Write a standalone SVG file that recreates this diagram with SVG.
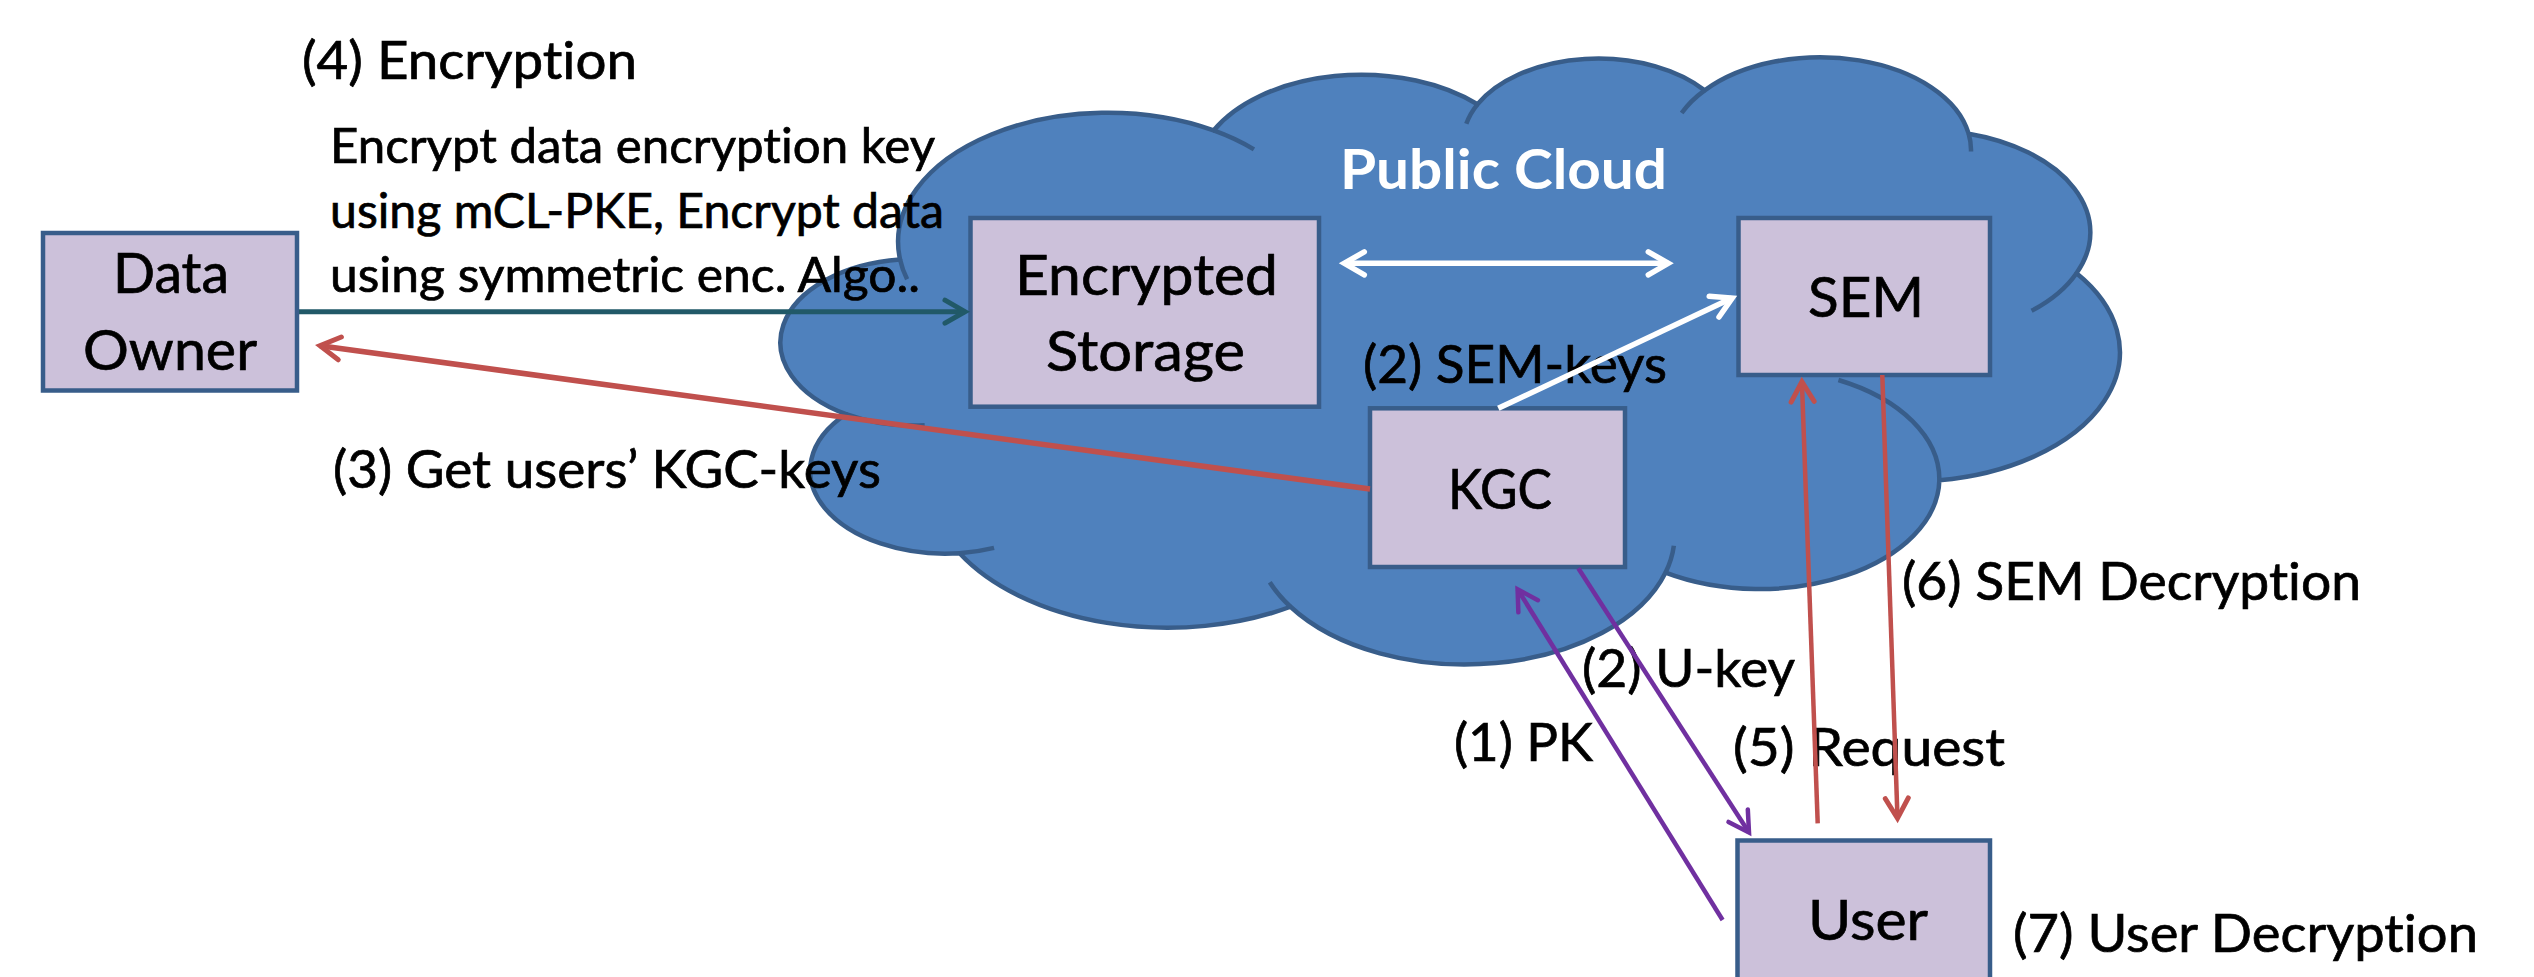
<svg xmlns="http://www.w3.org/2000/svg" width="2534" height="977" viewBox="0 0 2534 977">
<style>
  .cloud { fill: #4F81BD; stroke: #385D8A; stroke-width: 4.5; stroke-linejoin: round; }
  .stub { fill: none; stroke: #385D8A; stroke-width: 4.5; }
  .box { fill: #CCC1DA; stroke: #385D8A; stroke-width: 4.5; }
  .t { font-family: Lato, "Open Sans", "Liberation Sans", sans-serif; fill: #000000; stroke: #000000; stroke-width: 0.7; font-variant-ligatures: none; font-feature-settings: "liga" 0, "clig" 0; }
  .node { font-size: 56px; text-anchor: middle; }
  .lbl { font-size: 52px; }
  .para { font-size: 47.5px; }
  .title { font-size: 55px; font-weight: bold; fill: #FFFFFF; stroke: none; }
  .c { fill: none; stroke-linecap: butt; }
  .teal { stroke: #215968; stroke-width: 5; }
  .red { stroke: #C0504D; stroke-width: 5.5; }
  .redt { stroke: #C0504D; stroke-width: 4.5; }
  .purple { stroke: #7030A0; stroke-width: 4.5; }
  .white { stroke: #FFFFFF; stroke-width: 5.5; }
</style>
<defs>
  <marker id="aTeal" markerUnits="userSpaceOnUse" orient="auto-start-reverse" refX="0" refY="0" markerWidth="40" markerHeight="40" overflow="visible">
    <path d="M-20,-11.5 L0,0 L-20,11.5" fill="none" stroke="#215968" stroke-width="5" stroke-linecap="round" stroke-linejoin="miter"/>
  </marker>
  <marker id="aRed" markerUnits="userSpaceOnUse" orient="auto-start-reverse" refX="0" refY="0" markerWidth="40" markerHeight="40" overflow="visible">
    <path d="M-20,-11.5 L0,0 L-20,11.5" fill="none" stroke="#C0504D" stroke-width="5" stroke-linecap="round" stroke-linejoin="miter"/>
  </marker>
  <marker id="aPurple" markerUnits="userSpaceOnUse" orient="auto-start-reverse" refX="0" refY="0" markerWidth="40" markerHeight="40" overflow="visible">
    <path d="M-20,-11.5 L0,0 L-20,11.5" fill="none" stroke="#7030A0" stroke-width="4.5" stroke-linecap="round" stroke-linejoin="miter"/>
  </marker>
  <marker id="aWhite" markerUnits="userSpaceOnUse" orient="auto-start-reverse" refX="0" refY="0" markerWidth="40" markerHeight="40" overflow="visible">
    <path d="M-20,-11.5 L0,0 L-20,11.5" fill="none" stroke="#FFFFFF" stroke-width="5.5" stroke-linecap="round" stroke-linejoin="miter"/>
  </marker>
</defs>

<rect x="0" y="0" width="2534" height="977" fill="#FFFFFF"/>

<g id="public-cloud">
  <g transform="translate(779,57.5) scale(0.031042,0.014051)">
    <path class="cloud" vector-effect="non-scaling-stroke" d="M3900,14370 A6753,9190 0 0 1 14000,5192 A5333,7267 0 0 1 22500,3330 A4365,5945 0 0 1 29820,2340 A4857,6595 0 0 1 38324,5426 A5333,7273 0 0 1 41798,15354 A6775,9220 0 0 1 37380,30090 A5785,7867 0 0 1 28560,36660 A6752,9215 0 0 1 16478,39090 A7720,10543 0 0 1 5820,35280 A4360,5918 0 0 1 2160,25380 A4345,5945 0 0 1 3900,14370 Z"/>
    <path class="stub" vector-effect="non-scaling-stroke" d="M4693,26177 A4345,5945 0 0 1 2160,25380 M6928,34899 A4360,5918 0 0 1 5820,35280 M16478,39090 A6752,9215 0 0 1 15810,37350 M28827,34751 A6752,9215 0 0 1 28560,36660 M34129,22954 A5785,7867 0 0 1 37380,30090 M41798,15354 A5333,7273 0 0 1 40350,18030 M38324,5426 A4857,6595 0 0 1 38400,6690 M29078,3952 A4857,6595 0 0 1 29820,2340 M22141,4720 A4365,5945 0 0 1 22500,3330 M14000,5192 A6753,9190 0 0 1 15300,6540 M4127,15789 A6753,9190 0 0 1 3900,14370"/>
  </g>
  <text class="t title" x="1340" y="189.4" textLength="327" lengthAdjust="spacingAndGlyphs">Public Cloud</text>
</g>

<g id="data-owner">
  <rect class="box" x="43" y="233" width="254" height="157.5"/>
  <text class="t node" x="171" y="293.3" textLength="116" lengthAdjust="spacingAndGlyphs">Data</text>
  <text class="t node" x="170" y="370" textLength="174" lengthAdjust="spacingAndGlyphs">Owner</text>
</g>

<g id="encrypted-storage">
  <rect class="box" x="970.5" y="218" width="348.5" height="188.7"/>
  <text class="t node" x="1146.5" y="294.7" textLength="263" lengthAdjust="spacingAndGlyphs">Encrypted</text>
  <text class="t node" x="1145.5" y="371" textLength="199" lengthAdjust="spacingAndGlyphs">Storage</text>
</g>

<g id="sem">
  <rect class="box" x="1738.5" y="218" width="251.5" height="157"/>
  <text class="t node" x="1866" y="317" textLength="116" lengthAdjust="spacingAndGlyphs">SEM</text>
</g>

<g id="kgc">
  <rect class="box" x="1370" y="408.3" width="255" height="158.7"/>
  <text class="t node" x="1500" y="509" textLength="104" lengthAdjust="spacingAndGlyphs">KGC</text>
</g>

<g id="user">
  <rect class="box" x="1737.5" y="840.5" width="252.5" height="175"/>
  <text class="t node" x="1868" y="940" textLength="120" lengthAdjust="spacingAndGlyphs">User</text>
</g>

<g id="labels">
  <text class="t lbl" x="302" y="79" textLength="335" lengthAdjust="spacingAndGlyphs">(4) Encryption</text>
  <text class="t para" x="330" y="163.3" textLength="605" lengthAdjust="spacingAndGlyphs">Encrypt data encryption key</text>
  <text class="t para" x="330" y="227.8" textLength="614" lengthAdjust="spacingAndGlyphs">using mCL-PKE, Encrypt data</text>
  <text class="t para" x="330" y="292.3" textLength="590" lengthAdjust="spacingAndGlyphs">using symmetric enc. Algo..</text>
  <text class="t lbl" x="333" y="488" textLength="548" lengthAdjust="spacingAndGlyphs">(3) Get users’ KGC-keys</text>
  <text class="t lbl" x="1363" y="383" textLength="304" lengthAdjust="spacingAndGlyphs">(2) SEM-keys</text>
  <text class="t lbl" x="1902" y="600" textLength="459" lengthAdjust="spacingAndGlyphs">(6) SEM Decryption</text>
  <text class="t lbl" x="1582" y="686.5" textLength="213" lengthAdjust="spacingAndGlyphs">(2) U-key</text>
  <text class="t lbl" x="1454" y="760.5" textLength="139" lengthAdjust="spacingAndGlyphs">(1) PK</text>
  <text class="t lbl" x="1733" y="766" textLength="272" lengthAdjust="spacingAndGlyphs">(5) Request</text>
  <text class="t lbl" x="2013" y="951.5" textLength="465" lengthAdjust="spacingAndGlyphs">(7) User Decryption</text>
</g>

<g id="connectors">
  <path class="c teal" d="M299,311.7 L965,311.7" marker-end="url(#aTeal)"/>
  <path class="c red" d="M1370,489 L320,345.7" marker-end="url(#aRed)"/>
  <path class="c purple" d="M1722.6,920 L1517.6,589.3" marker-end="url(#aPurple)"/>
  <path class="c purple" d="M1578.3,568.3 L1749,832.5" marker-end="url(#aPurple)"/>
  <path class="c redt" d="M1817.7,823.3 L1801.9,381.7" marker-end="url(#aRed)"/>
  <path class="c redt" d="M1882.3,375 L1897.5,818.3" marker-end="url(#aRed)"/>
  <path class="c white" d="M1344.3,263.3 L1668.3,263.3" marker-start="url(#aWhite)" marker-end="url(#aWhite)"/>
  <path class="c white" d="M1498.3,408.3 L1732.2,298.1" marker-end="url(#aWhite)"/>
</g>
</svg>
